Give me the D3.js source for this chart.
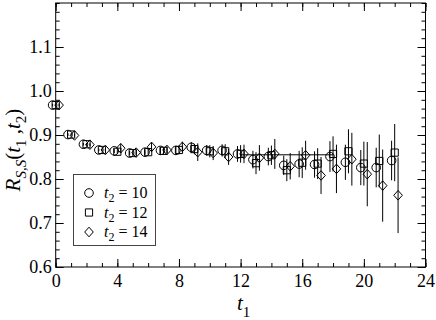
<!DOCTYPE html>
<html>
<head>
<meta charset="utf-8">
<script src="https://cdn.jsdelivr.net/npm/d3@7"></script>
<style>
  body { margin: 0; background: #fff; }
  svg, text { font-family: "Liberation Serif", "Times New Roman", "DejaVu Serif", serif; }
</style>
</head>
<body>
<svg id="chart" width="436" height="320"></svg>
<script>
// t1 values
const t1 = d3.range(0, 23)

// R_{S,S}(t1,t2) for t2 = 10, 12, 14
const r10 = [0.968,0.901,0.879,0.866,0.864,0.859,0.861,0.865,0.865,0.872,0.865,0.865,0.857,0.844,0.851,0.831,0.834,0.833,0.851,0.838,0.826,0.826,0.842]
const e10 = [0.003,0.003,0.003,0.003,0.005,0.005,0.006,0.008,0.010,0.012,0.012,0.014,0.018,0.020,0.020,0.022,0.030,0.030,0.035,0.040,0.040,0.045,0.045]
const r12 = [0.968,0.901,0.879,0.866,0.862,0.859,0.861,0.864,0.866,0.868,0.863,0.863,0.857,0.836,0.854,0.820,0.837,0.835,0.857,0.863,0.835,0.841,0.860]
const e12 = [0.003,0.003,0.003,0.003,0.005,0.005,0.006,0.008,0.010,0.012,0.014,0.016,0.020,0.025,0.022,0.025,0.035,0.035,0.040,0.050,0.050,0.060,0.065]
const r14 = [0.968,0.899,0.878,0.866,0.870,0.860,0.873,0.866,0.873,0.861,0.859,0.850,0.857,0.848,0.857,0.829,0.854,0.808,0.823,0.845,0.811,0.785,0.763]
const e14 = [0.003,0.003,0.003,0.003,0.010,0.006,0.010,0.008,0.012,0.020,0.016,0.018,0.021,0.029,0.034,0.030,0.033,0.042,0.055,0.060,0.073,0.082,0.086]

// plateau fit
const fitRange = [12, 18]
const fitValue = 0.855

const xTicks = [0, 4, 8, 12, 16, 20, 24]
const yTicks = [0.6, 0.7, 0.8, 0.9, 1.0, 1.1]

const series = [
  {label: "10", shape: "circle", dx: -0.2, r: r10, e: e10},
  {label: "12", shape: "square", dx: 0, r: r12, e: e12},
  {label: "14", shape: "diamond", dx: 0.22, r: r14, e: e14}
]

const serif = "Liberation Serif, Times New Roman, serif"
const pLeft = 55.7, pRight = 425.5, pTop = 3, pBottom = 267
const svg = d3.select("#chart").attr("font-family", serif)

const x = d3.scaleLinear().domain([0, 24]).range([pLeft, pRight])
const y = d3.scaleLinear().domain([0.6, 1.2]).range([pBottom, pTop])

// frame
svg.append("rect")
  .attr("x", pLeft).attr("y", pTop)
  .attr("width", pRight - pLeft).attr("height", pBottom - pTop)
  .attr("fill", "none").attr("stroke", "#000")

function styleAxis(g) {
  g.attr("font-family", serif).attr("font-size", 18)
  g.select(".domain").remove()
  g.selectAll("line").attr("stroke", "#000")
  g.selectAll("text").attr("fill", "#000")
}

// bottom / top
svg.append("g").attr("transform", `translate(0,${pBottom})`)
  .call(d3.axisBottom(x).tickValues(d3.range(0, 25)).tickSize(-4).tickFormat(""))
  .call(styleAxis)
svg.append("g").attr("transform", `translate(0,${pBottom})`)
  .call(d3.axisBottom(x).tickValues(xTicks).tickSize(-8).tickPadding(7).tickFormat(d3.format("d")))
  .call(styleAxis)
svg.append("g").attr("transform", `translate(0,${pTop})`)
  .call(d3.axisTop(x).tickValues(d3.range(0, 25)).tickSize(-4).tickFormat(""))
  .call(styleAxis)
svg.append("g").attr("transform", `translate(0,${pTop})`)
  .call(d3.axisTop(x).tickValues(xTicks).tickSize(-8).tickFormat(""))
  .call(styleAxis)

// left / right
svg.append("g").attr("transform", `translate(${pLeft},0)`)
  .call(d3.axisLeft(y).tickValues(d3.range(0.6, 1.2001, 0.02)).tickSize(-4).tickFormat(""))
  .call(styleAxis)
svg.append("g").attr("transform", `translate(${pLeft},0)`)
  .call(d3.axisLeft(y).tickValues(yTicks).tickSize(-8).tickPadding(4).tickFormat(d3.format(".1f")))
  .call(styleAxis)
svg.append("g").attr("transform", `translate(${pRight},0)`)
  .call(d3.axisRight(y).tickValues(d3.range(0.6, 1.2001, 0.02)).tickSize(-4).tickFormat(""))
  .call(styleAxis)
svg.append("g").attr("transform", `translate(${pRight},0)`)
  .call(d3.axisRight(y).tickValues(yTicks).tickSize(-8).tickFormat(""))
  .call(styleAxis)

// fit line
svg.append("line")
  .attr("x1", x(fitRange[0])).attr("x2", x(fitRange[1]))
  .attr("y1", y(fitValue)).attr("y2", y(fitValue))
  .attr("stroke", "#000")

function symbolPath(shape) {
  if (shape === "circle") return "M4.3,0A4.3,4.3 0 1,1 -4.3,0A4.3,4.3 0 1,1 4.3,0Z"
  if (shape === "square") return "M-3.6,-3.6H3.6V3.6H-3.6Z"
  return "M0,-4.8L4.3,0L0,4.8L-4.3,0Z"
}

series.forEach(s => {
  const pts = t1.map((t, i) => ({t: t + s.dx, v: s.r[i], e: s.e[i]}))
  const g = svg.append("g")
  g.selectAll("line.err").data(pts).join("line")
    .attr("class", "err")
    .attr("x1", d => x(d.t)).attr("x2", d => x(d.t))
    .attr("y1", d => y(d.v - d.e)).attr("y2", d => y(d.v + d.e))
    .attr("stroke", "#000")
  g.selectAll("path").data(pts).join("path")
    .attr("d", symbolPath(s.shape))
    .attr("transform", d => `translate(${x(d.t)},${y(d.v)})`)
    .attr("fill", "none").attr("stroke", "#000")
})

// legend
const lg = svg.append("g")
lg.append("rect").attr("x", 73.5).attr("y", 174.5).attr("width", 82).attr("height", 71)
  .attr("fill", "#fff").attr("stroke", "#444")
series.forEach((s, i) => {
  const cy = 193 + i * 19.5
  lg.append("path").attr("d", symbolPath(s.shape))
    .attr("transform", `translate(89,${cy})`)
    .attr("fill", "none").attr("stroke", "#000")
  const tx = lg.append("text").attr("x", 104).attr("y", cy + 5).attr("font-size", 16)
  tx.append("tspan").attr("font-style", "italic").text("t")
  tx.append("tspan").attr("font-size", 12).attr("dy", 4).text("2")
  tx.append("tspan").attr("dy", -4).text(" = " + s.label)
})

// axis titles
const xt = svg.append("text").attr("x", 237).attr("y", 310).attr("font-size", 21)
xt.append("tspan").attr("font-style", "italic").text("t")
xt.append("tspan").attr("font-size", 15).attr("dy", 7).text("1")

const yt = svg.append("text")
  .attr("transform", "translate(20,150) rotate(-90)")
  .attr("text-anchor", "middle").attr("font-size", 21)
yt.append("tspan").attr("font-style", "italic").text("R")
yt.append("tspan").attr("font-size", 15).attr("font-style", "italic").attr("dy", 6).text("S,S")
yt.append("tspan").attr("dy", -6).text("(")
yt.append("tspan").attr("font-style", "italic").text("t")
yt.append("tspan").attr("font-size", 15).attr("dy", 6).text("1")
yt.append("tspan").attr("dy", -6).text(" ,")
yt.append("tspan").attr("font-style", "italic").text("t")
yt.append("tspan").attr("font-size", 15).attr("dy", 6).text("2")
yt.append("tspan").attr("dy", -6).text(")")
</script>
</body>
</html>
